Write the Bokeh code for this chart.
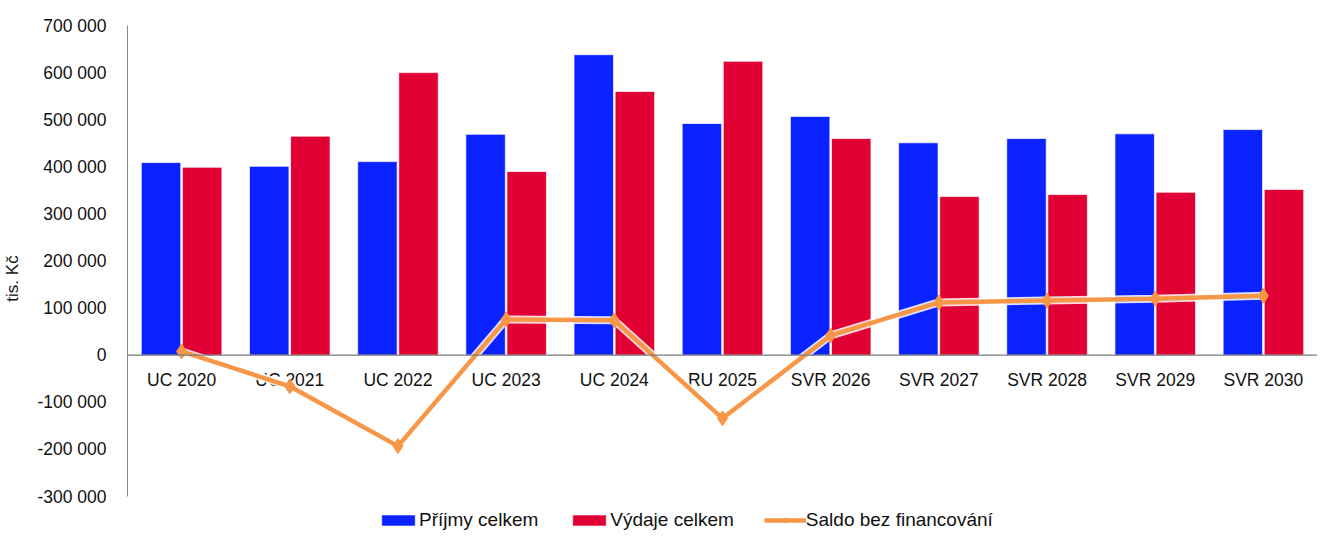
from bokeh.plotting import figure
from bokeh.models import (FactorRange, Range1d, FixedTicker, CustomJSTickFormatter,
                          Span, Legend, LegendItem, ColumnDataSource)
from bokeh.transform import dodge
from bokeh.core.properties import value
from bokeh.embed import file_html
from bokeh.resources import INLINE

categories = ["UC 2020", "UC 2021", "UC 2022", "UC 2023", "UC 2024", "RU 2025",
              "SVR 2026", "SVR 2027", "SVR 2028", "SVR 2029", "SVR 2030"]
prijmy = [409000, 401000, 411000, 469000, 638000, 492000, 507000, 451000, 460000, 470000, 479000]
vydaje = [399000, 465000, 600000, 390000, 560000, 624000, 460000, 337000, 341000, 346000, 352000]
saldo = [8000, -66000, -193000, 76000, 74000, -134000, 42000, 112000, 116000, 120000, 126000]
y_ticks = list(range(-300000, 700001, 100000))

FONT = "Liberation Sans"
BLUE = "#0A22FF"
RED = "#E00034"
ORANGE = "#F79646"

src = ColumnDataSource(dict(cat=categories, prijmy=prijmy, vydaje=vydaje, saldo=saldo,
                            zero=[0] * len(categories)))

p = figure(x_range=FactorRange(*categories, range_padding=0),
           y_range=Range1d(-374300, 700000),
           width=1317, height=532, output_backend="svg", toolbar_location=None,
           min_border_left=120, min_border_right=0, min_border_top=25, min_border_bottom=1)
p.outline_line_color = None
p.background_fill_color = "white"
p.border_fill_color = "white"
p.xgrid.grid_line_color = None
p.ygrid.grid_line_color = None
p.xaxis.visible = False

yax = p.yaxis[0]
yax.ticker = FixedTicker(ticks=y_ticks)
yax.bounds = (-300000, 700000)
yax.formatter = CustomJSTickFormatter(code="""
return Math.round(tick).toString().replace(/\\B(?=(\\d{3})+(?!\\d))/g, " ");
""")
yax.major_tick_line_color = None
yax.minor_tick_line_color = None
yax.axis_line_color = "#8a8a8a"
yax.major_label_text_font = FONT
yax.major_label_text_font_size = "17.5px"
yax.major_label_text_color = "#111111"
yax.major_label_standoff = 15
yax.axis_label = "tis. Kč"
yax.axis_label_text_font = FONT
yax.axis_label_text_font_size = "17px"
yax.axis_label_text_font_style = "normal"
yax.axis_label_text_color = "#111111"
yax.axis_label_standoff = 12

r_b = p.vbar(x=dodge("cat", -0.19, range=p.x_range), top="prijmy", width=0.365, source=src,
             fill_color=BLUE, line_color="white", line_alpha=0.7, line_width=1)
r_r = p.vbar(x=dodge("cat", 0.19, range=p.x_range), top="vydaje", width=0.365, source=src,
             fill_color=RED, line_color="white", line_alpha=0.7, line_width=1)

p.add_layout(Span(location=0, dimension="width", line_color="#7a7a7a", line_width=1.2))

p.text(x="cat", y="zero", text="cat", source=src, text_align="center", text_baseline="top",
       y_offset=15, text_font=value(FONT), text_font_size="17.5px", text_color="#111111")

p.line(x="cat", y="saldo", source=src, line_color="white", line_width=8, line_alpha=0.85)
r_l = p.line(x="cat", y="saldo", source=src, line_color=ORANGE, line_width=4.5)
r_m = p.scatter(x="cat", y="saldo", source=src, marker="diamond", size=15,
                fill_color=ORANGE, line_color=ORANGE, line_width=1)

legend = Legend(items=[LegendItem(label="Příjmy celkem", renderers=[r_b]),
                       LegendItem(label="Výdaje celkem", renderers=[r_r]),
                       LegendItem(label="Saldo bez financování", renderers=[r_l, r_m])],
                orientation="horizontal", location=(250, 0))
legend.label_text_font = FONT
legend.label_text_font_size = "19px"
legend.label_text_color = "#111111"
legend.glyph_width = 42
legend.glyph_height = 14
legend.label_standoff = 0
legend.spacing = 30
legend.padding = 0
legend.margin = 0
legend.border_line_color = None
legend.background_fill_alpha = 0
p.add_layout(legend)

open("out.html", "w").write(file_html(p, INLINE))
